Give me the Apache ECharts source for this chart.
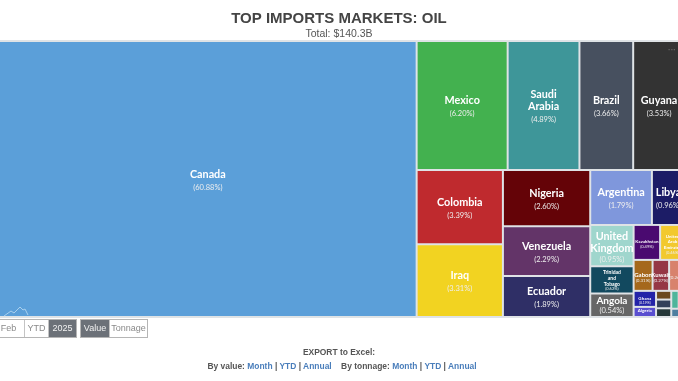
<!DOCTYPE html>
<html>
<head>
<meta charset="utf-8">
<script src="https://cdn.jsdelivr.net/npm/echarts@6/dist/echarts.min.js"></script>
<style>
  html, body { margin: 0; padding: 0; background: #fff; overflow: hidden; }
  #chart { position: absolute; left: 0; top: 0; width: 678px; height: 381px; }
  .btns { position: absolute; top: 319px; height: 17px; display: flex; border: 1px solid #b5b5b5;
    font: 9px Arial, "Liberation Sans", sans-serif; color: #8a8a8a; box-sizing: content-box; }
  .btns div { line-height: 17px; text-align: center; border-right: 1px solid #c4c4c4; }
  .btns div:last-child { border-right: 0; }
  .btns .on { background: #6c7178; color: #f2f2f2; }
  .export { position: absolute; left: 0; width: 678px; text-align: center; white-space: pre;
    font: bold 8.45px Arial, "Liberation Sans", sans-serif; color: #555; }
  .export a { color: #4a7ebb; }
  #logo { position: absolute; left: 3px; top: 305px; }
  #menu { position: absolute; left: 668px; top: 45px; font: bold 8px Arial, "Liberation Sans", sans-serif; color: #666; }
</style>
</head>
<body>
<div id="chart"></div>
<svg id="logo" width="26" height="12"><polyline points="1,11 8,6 11,8 17,2 20,5 22,4 25,10" fill="none" stroke="#a9d0ee" stroke-width="1"/></svg>
<div id="menu">···</div>
<div class="btns" style="left:-8px">
  <div style="width:31px">Feb</div><div style="width:23px">YTD</div><div class="on" style="width:27px">2025</div>
</div>
<div class="btns" style="left:80px">
  <div class="on" style="width:28px">Value</div><div style="width:37px">Tonnage</div>
</div>
<div class="export" style="top:347px">EXPORT to Excel:</div>
<div class="export" style="top:361px;left:3px">By value: <a>Month</a> | <a>YTD</a> | <a>Annual</a>    By tonnage: <a>Month</a> | <a>YTD</a> | <a>Annual</a></div>
<script>
const countries = ["Canada","Mexico","Saudi Arabia","Brazil","Guyana","Colombia","Iraq","Nigeria","Venezuela","Ecuador","Argentina","Libya","United Kingdom","Trinidad and Tobago","Angola","Kazakhstan","United Arab Emirates","Gabon","Kuwait","Other","Ghana","Algeria","Other A","Other B","Other C","Other D","Other E","Other F"];
const shares = [60.88,6.20,4.89,3.66,3.53,3.39,3.31,2.60,2.29,1.89,1.79,0.96,0.95,0.62,0.54,0.49,0.46,0.31,0.27,0.26,0.19,0.12,0.07,0.07,0.06,0.06,0.07,0.07];
const colours = ["#5b9fd9","#43b14f","#3e9699","#47505f","#333333","#bf2a2e","#f2d321","#640307","#633468","#2f2f66","#7f97dc","#1c1c66","#9fd6cd","#12495f","#666666","#4a0a70","#f2c92e","#a5681c","#953745","#d8826c","#2323a8","#5a4fd0","#4fb59b","#26383a","#4f7fa0","#8fd94a","#33405a","#6b4a20"];
const hiddenBelow = 0.12; // tiles smaller than this have no readable label

// name size, percent size, extra line height under the percent
function tier(v) {
  if (v >= 0.96) return [10.8, 7.5, 6];
  if (v >= 0.9) return [10.8, 7.5, 2];
  if (v >= 0.5) return v > 0.6 ? [5, 4, 0.5] : [10, 7.5, 1];
  if (v >= 0.4) return [4.5, 4, 1];
  if (v >= 0.25) return [6, 4.5, 1];
  return [4.5, 3.5, 0.5];
}

// heights: tile heights from the library's own layout, used to centre the labels
function buildData(heights) {
  return countries.map((name, i) => {
    const [a, b, extra] = tier(shares[i]);
    const unnamed = name.startsWith("Other");
    const words = unnamed ? [] : name.split(" ");
    const nameLine = a + (a < 8 ? 0.8 : 1.5);
    const textH = words.length * nameLine + b + extra;
    let top = 0;
    if (heights) {
      // the treemap drops lines that do not fit, so keep the block inside the tile
      top = Math.max(0, Math.min((heights[name] - textH) / 2 + 1, heights[name] - textH - 3));
    }
    return {
      name: name,
      value: shares[i],
      itemStyle: { color: colours[i] },
      label: {
        show: shares[i] >= hiddenBelow,
        position: "inside",
        overflow: "none",
        padding: [top, 0, 0, 0],
        formatter: words.map(w => "{n|" + w + "}\n").join("") + "{p|(" + shares[i].toFixed(2) + "%)}",
        rich: {
          n: { fontFamily: "Lato", fontWeight: "bold", fontSize: a, lineHeight: nameLine, color: "#fff", align: "center" },
          p: { fontFamily: "Lato", fontSize: b, lineHeight: b + extra, color: "#eee", align: "center" }
        }
      }
    };
  });
}

const chart = echarts.init(document.getElementById("chart"));
chart.setOption({
  animation: false,
  title: {
    text: "TOP IMPORTS MARKETS: OIL",
    subtext: "Total: $140.3B",
    left: "center",
    top: 6,
    itemGap: 3,
    textStyle: { fontFamily: "Arial, Liberation Sans", fontSize: 15, fontWeight: "bold", color: "#444" },
    subtextStyle: { fontFamily: "Arial, Liberation Sans", fontSize: 10.5, color: "#555" }
  },
  series: [{
    type: "treemap",
    left: -2,
    top: 40,
    width: 688,
    height: 278,
    roam: false,
    nodeClick: false,
    breadcrumb: { show: false },
    sort: "desc",
    itemStyle: { borderWidth: 1, borderColor: "#dfe3e6", gapWidth: 0 },
    data: buildData(null)
  }]
});

const heights = {};
chart.getModel().getSeriesByIndex(0).getData().tree.root.children.forEach(node => {
  heights[node.name] = node.getLayout().height;
});
chart.setOption({ series: [{ data: buildData(heights) }] });
</script>
</body>
</html>
